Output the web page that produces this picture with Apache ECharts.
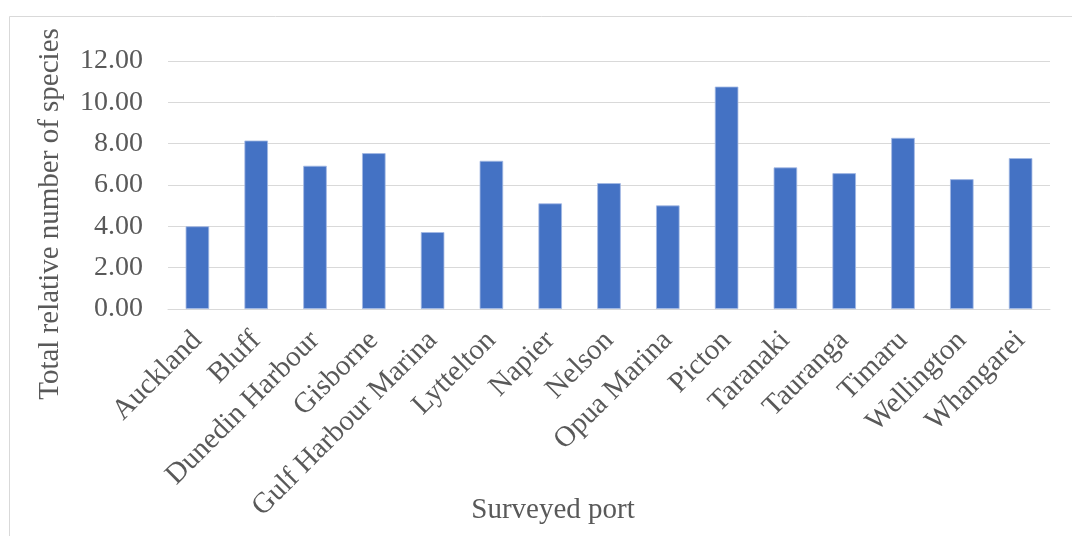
<!DOCTYPE html>
<html>
<head>
<meta charset="utf-8">
<script src="https://cdn.jsdelivr.net/npm/echarts@6/dist/echarts.min.js"></script>
<style>
html,body{margin:0;padding:0;background:#fff;}
#chart{width:1072px;height:536px;}
</style>
</head>
<body>
<div id="chart"></div>
<script>
const categories = ["Auckland","Bluff","Dunedin Harbour","Gisborne","Gulf Harbour Marina","Lyttelton","Napier","Nelson","Opua Marina","Picton","Taranaki","Tauranga","Timaru","Wellington","Whangarei"];
const values = [4.00, 8.15, 6.93, 7.54, 3.72, 7.17, 5.11, 6.09, 5.01, 10.76, 6.85, 6.57, 8.28, 6.28, 7.30];
const yTicks = [0, 2, 4, 6, 8, 10, 12];
const xTitle = "Surveyed port";
const yTitle = "Total relative number of species";

const font = "'Liberation Serif', 'Times New Roman', serif";
const textColor = '#595959';

const chart = echarts.init(document.getElementById('chart'), null, {renderer: 'canvas'});
chart.setOption({
  animation: false,
  backgroundColor: '#ffffff',
  grid: {left: 168, right: 22, top: 61, bottom: 227, containLabel: false},
  xAxis: {
    type: 'category',
    data: categories,
    axisLine: {show: true, lineStyle: {color: '#d9d9d9', width: 1}},
    axisTick: {show: false},
    axisLabel: {
      interval: 0, rotate: 45, margin: 27,
      fontFamily: font, fontSize: 29, color: textColor
    }
  },
  yAxis: {
    type: 'value',
    min: yTicks[0], max: yTicks[yTicks.length - 1], interval: 2,
    axisLine: {show: false},
    axisTick: {show: false},
    splitLine: {lineStyle: {color: '#d9d9d9', width: 1}},
    axisLabel: {
      margin: 25,
      fontFamily: font, fontSize: 28, color: textColor,
      formatter: v => v.toFixed(2)
    }
  },
  series: [{
    type: 'bar',
    data: values,
    barWidth: '40%',
    itemStyle: {color: '#4472C4', borderColor: '#a3b9e3', borderWidth: 0.8}
  }],
  graphic: [
    {type: 'rect', shape: {x: 9.5, y: 16.5, width: 1200, height: 700}, style: {fill: null, stroke: '#d9d9d9', lineWidth: 1}, silent: true, z: -10},
    {type: 'text', x: 553, y: 510, style: {text: xTitle, font: "29px 'Liberation Serif', serif", fill: textColor, textAlign: 'center', textVerticalAlign: 'middle'}},
    {type: 'text', x: 50, y: 214, rotation: Math.PI / 2, style: {text: yTitle, font: "29px 'Liberation Serif', serif", fill: textColor, textAlign: 'center', textVerticalAlign: 'middle'}}
  ]
});
</script>
</body>
</html>
